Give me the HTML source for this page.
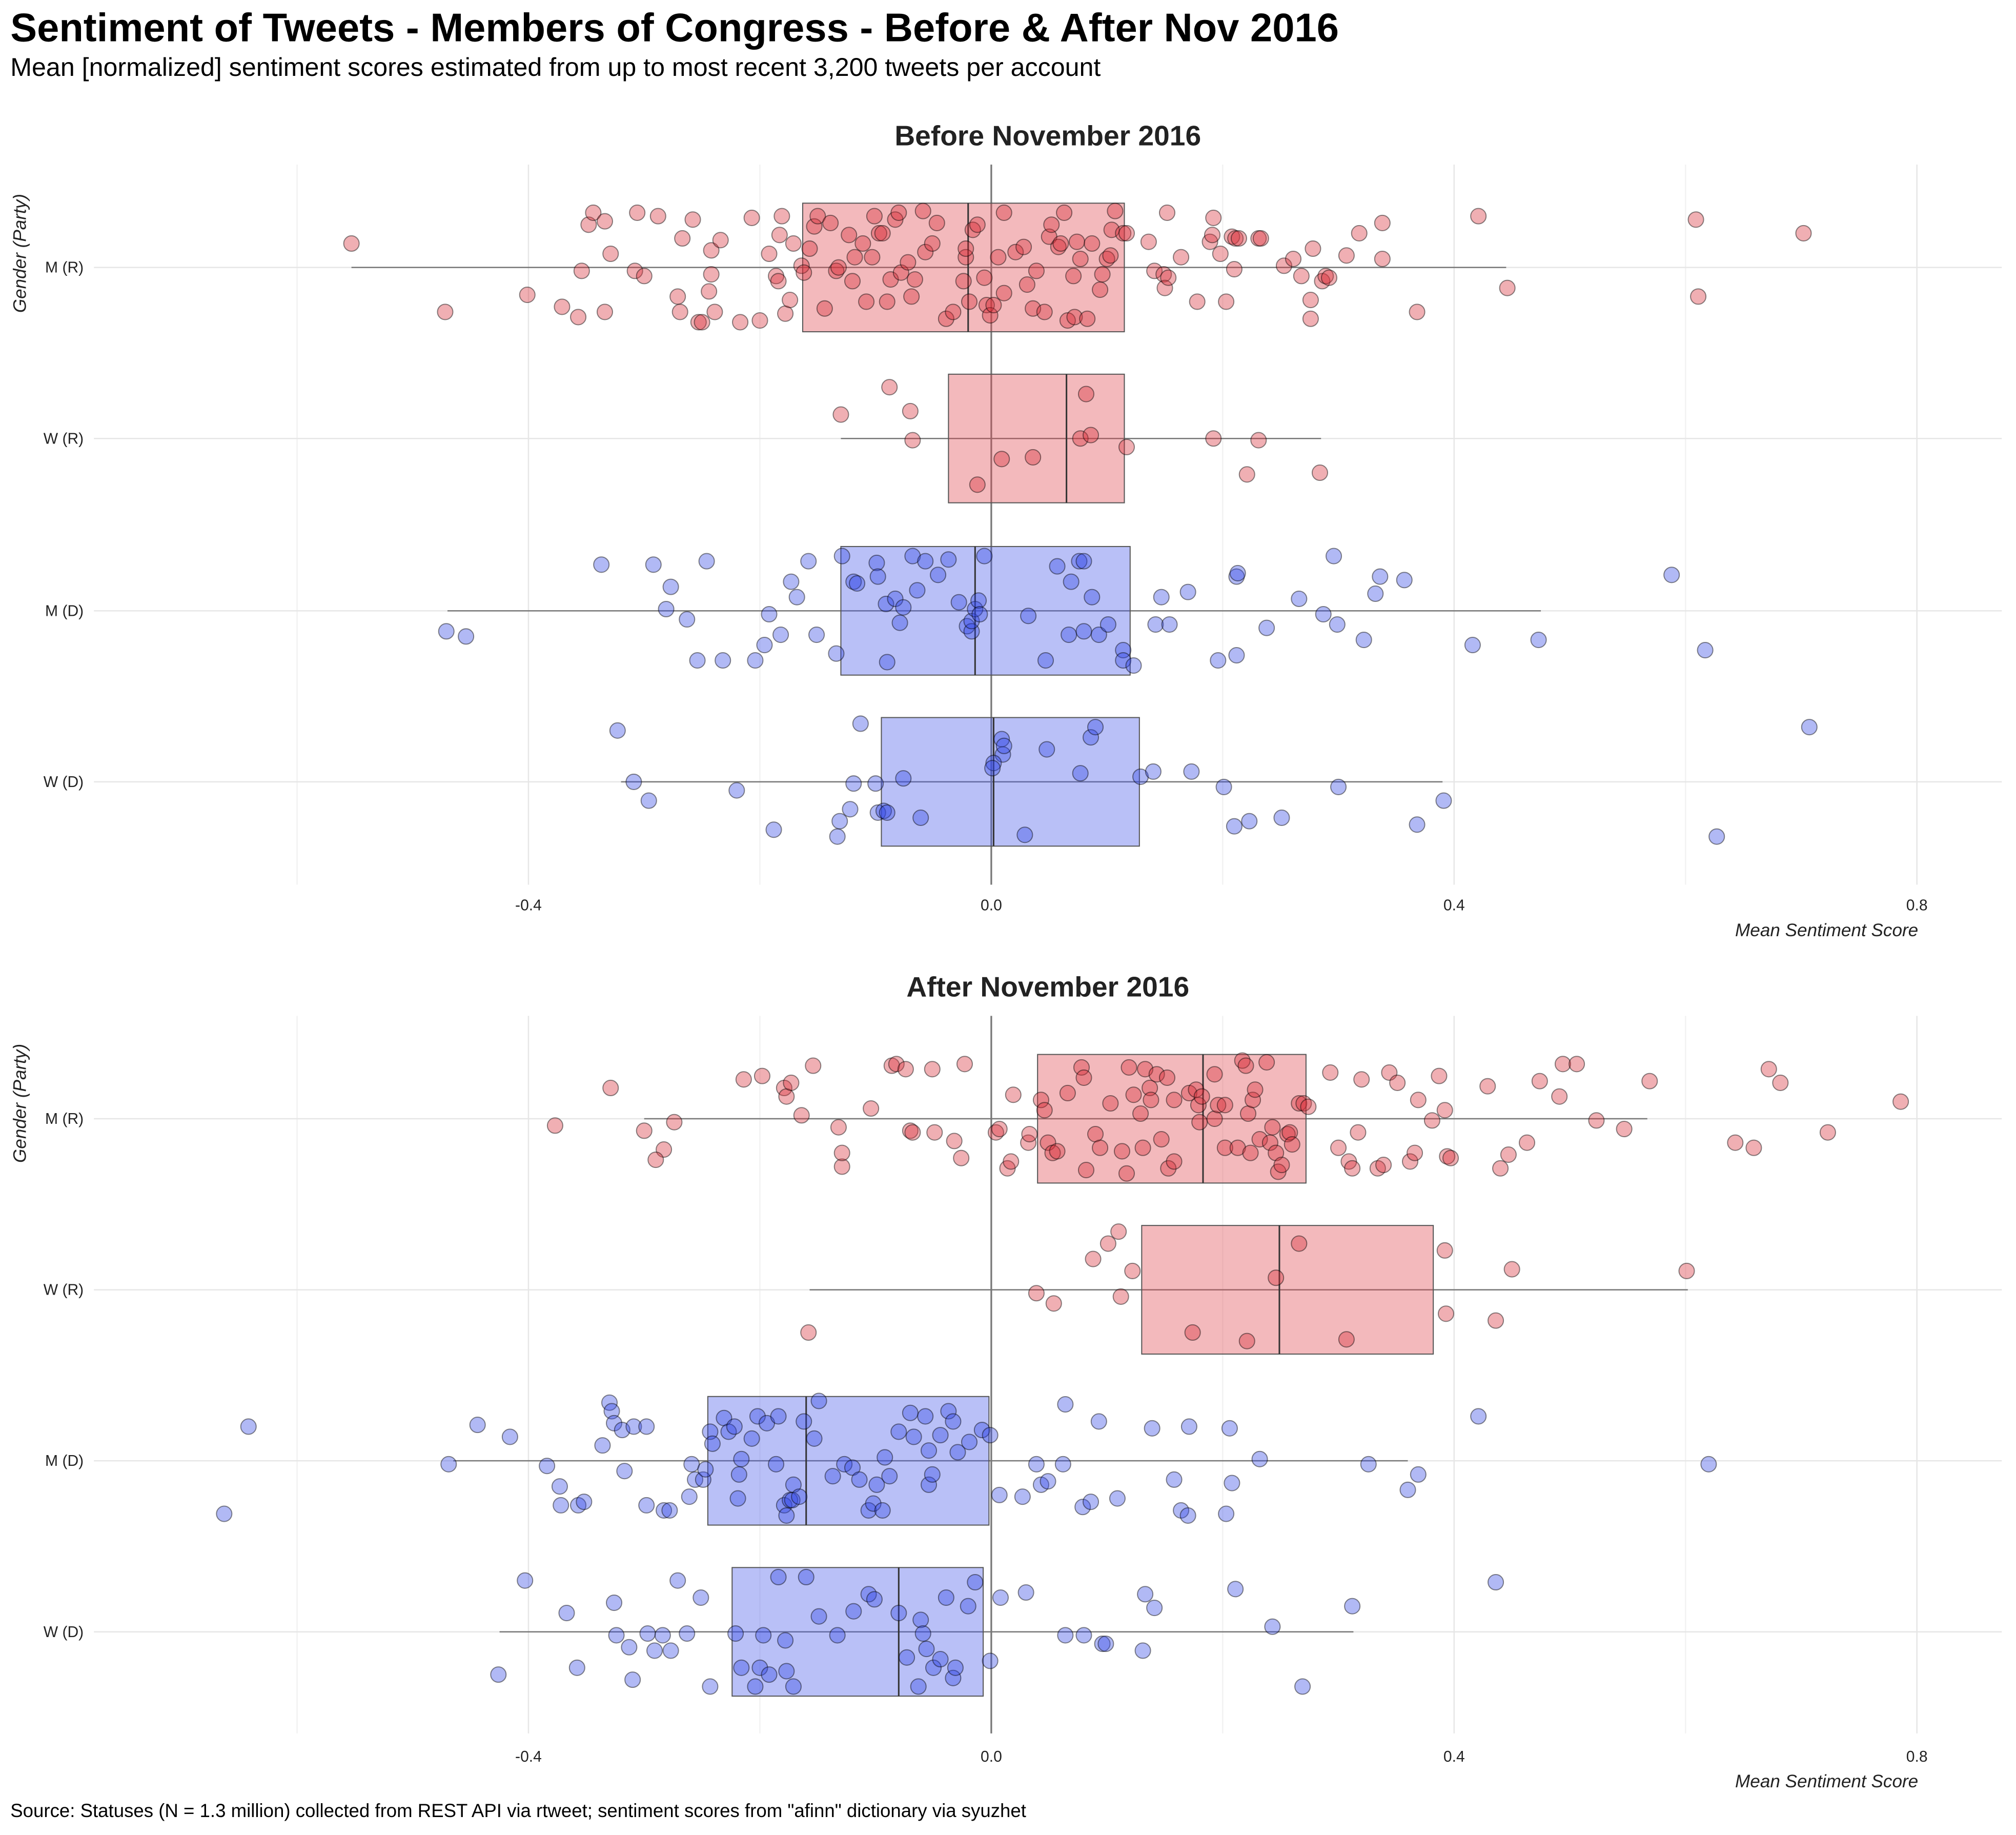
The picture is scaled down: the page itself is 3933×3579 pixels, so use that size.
<!DOCTYPE html>
<html><head><meta charset="utf-8"><style>
html,body{margin:0;padding:0;background:#fff;}
svg{display:block;}
text{font-family:"Liberation Sans",sans-serif;}
.nar{font-family:"Liberation Sans Narrow","Liberation Sans",sans-serif;}
</style></head><body>
<svg id="chart" width="3933" height="3579" viewBox="0 0 1568 1427" xmlns="http://www.w3.org/2000/svg">
<rect width="1568" height="1427" fill="#fff"/>
<text x="8" y="32" font-size="31" font-weight="bold">Sentiment of Tweets - Members of Congress - Before &amp; After Nov 2016</text>
<text x="8" y="59" font-size="20">Mean [normalized] sentiment scores estimated from up to most recent 3,200 tweets per account</text>
<text x="8" y="1413" font-size="14.6">Source: Statuses (N = 1.3 million) collected from REST API via rtweet; sentiment scores from "afinn" dictionary via syuzhet</text>
<g id="panels"></g>
</svg>
<script>
const categories = ["M (R)","W (R)","M (D)","W (D)"];
const categoryParty = ["R","R","D","D"];
const panelTitles = ["Before November 2016","After November 2016"];
const tickValues = [-0.4,0.0,0.4,0.8];
const tickLabels = ["-0.4","0.0","0.4","0.8"];
const minorTicks = [-0.6,-0.2,0.2,0.6];
// box stats [lowWhisker, q1, median, q3, highWhisker]
const boxesBefore = [[-0.553,-0.163,-0.02,0.115,0.445],[-0.13,-0.037,0.065,0.115,0.285],[-0.47,-0.13,-0.014,0.12,0.475],[-0.32,-0.095,0.002,0.128,0.39]];
const boxesAfter = [[-0.3,0.04,0.183,0.272,0.567],[-0.157,0.13,0.249,0.382,0.602],[-0.465,-0.245,-0.16,-0.002,0.36],[-0.425,-0.224,-0.08,-0.007,0.313]];
// points: [score, jitter (fraction of row)]
const before_MR = [[-0.553,-0.14],[-0.472,0.26],[-0.401,0.16],[-0.371,0.23],[-0.357,0.29],[-0.354,0.02],[-0.348,-0.25],[-0.344,-0.32],[-0.334,0.26],[-0.334,-0.27],[-0.329,-0.08],[-0.308,0.02],[-0.306,-0.32],[-0.300,0.05],[-0.288,-0.30],[-0.271,0.17],[-0.269,0.26],[-0.267,-0.17],[-0.258,-0.28],[-0.253,0.32],[-0.250,0.32],[-0.244,0.14],[-0.242,0.04],[-0.242,-0.10],[-0.239,0.26],[-0.234,-0.16],[-0.217,0.32],[-0.207,-0.29],[-0.200,0.31],[-0.192,-0.08],[-0.186,0.05],[-0.184,0.08],[-0.183,-0.19],[-0.181,-0.30],[-0.178,0.27],[-0.174,0.19],[-0.171,-0.14],[-0.164,-0.01],[-0.162,0.03],[-0.157,-0.11],[-0.153,-0.24],[-0.150,-0.30],[-0.144,0.24],[-0.139,-0.26],[-0.134,0.02],[-0.132,0.00],[-0.123,-0.19],[-0.120,0.08],[-0.118,-0.06],[-0.111,-0.14],[-0.108,0.20],[-0.103,-0.06],[-0.101,-0.30],[-0.097,-0.20],[-0.094,-0.20],[-0.090,0.20],[-0.087,0.07],[-0.083,-0.28],[-0.080,-0.32],[-0.078,0.03],[-0.072,-0.03],[-0.069,0.17],[-0.066,0.07],[-0.059,-0.33],[-0.057,-0.09],[-0.051,-0.14],[-0.047,-0.26],[-0.039,0.30],[-0.033,0.26],[-0.024,0.08],[-0.022,-0.06],[-0.022,-0.11],[-0.019,0.20],[-0.016,-0.22],[-0.012,-0.25],[-0.006,0.06],[-0.004,0.22],[-0.001,0.28],[0.002,0.22],[0.006,-0.06],[0.011,0.15],[0.011,-0.32],[0.021,-0.09],[0.028,-0.12],[0.031,0.10],[0.036,0.24],[0.039,0.02],[0.046,0.26],[0.050,-0.18],[0.052,-0.25],[0.058,-0.12],[0.060,-0.14],[0.063,-0.32],[0.066,0.31],[0.071,0.05],[0.072,0.29],[0.074,-0.15],[0.077,-0.05],[0.083,0.30],[0.087,-0.14],[0.094,0.13],[0.096,0.04],[0.100,-0.05],[0.103,-0.07],[0.104,-0.22],[0.107,-0.33],[0.114,-0.20],[0.117,-0.20],[0.136,-0.15],[0.141,0.02],[0.149,0.04],[0.150,0.12],[0.152,-0.32],[0.153,0.06],[0.164,-0.06],[0.178,0.20],[0.189,-0.15],[0.191,-0.19],[0.192,-0.29],[0.198,-0.08],[0.203,0.20],[0.208,-0.18],[0.210,0.01],[0.211,-0.17],[0.214,-0.17],[0.231,-0.17],[0.233,-0.17],[0.253,-0.01],[0.261,-0.05],[0.268,0.05],[0.276,0.19],[0.276,0.30],[0.278,-0.11],[0.286,0.08],[0.289,0.05],[0.292,0.06],[0.307,-0.07],[0.318,-0.20],[0.338,-0.05],[0.338,-0.26],[0.368,0.26],[0.421,-0.30],[0.446,0.12],[0.609,-0.28],[0.611,0.17],[0.702,-0.20]];
const before_WR = [[-0.130,-0.14],[-0.088,-0.30],[-0.070,-0.16],[-0.068,0.01],[-0.012,0.27],[0.009,0.12],[0.036,0.11],[0.077,0.00],[0.082,-0.26],[0.086,-0.02],[0.117,0.05],[0.192,0.00],[0.221,0.21],[0.231,0.01],[0.284,0.20]];
const before_MD = [[-0.471,0.12],[-0.454,0.15],[-0.337,-0.27],[-0.292,-0.27],[-0.281,-0.01],[-0.277,-0.14],[-0.263,0.05],[-0.254,0.29],[-0.246,-0.29],[-0.232,0.29],[-0.204,0.29],[-0.196,0.20],[-0.192,0.02],[-0.182,0.14],[-0.173,-0.17],[-0.168,-0.08],[-0.158,-0.29],[-0.151,0.14],[-0.134,0.25],[-0.129,-0.32],[-0.119,-0.17],[-0.116,-0.16],[-0.099,-0.28],[-0.098,-0.20],[-0.091,-0.04],[-0.090,0.30],[-0.083,-0.07],[-0.079,0.07],[-0.076,-0.02],[-0.068,-0.32],[-0.064,-0.12],[-0.057,-0.29],[-0.046,-0.21],[-0.037,-0.30],[-0.028,-0.05],[-0.021,0.09],[-0.017,0.12],[-0.017,0.06],[-0.014,-0.01],[-0.011,-0.06],[-0.010,0.02],[-0.006,-0.32],[0.032,0.03],[0.047,0.29],[0.057,-0.26],[0.067,0.14],[0.069,-0.17],[0.076,-0.29],[0.080,-0.29],[0.080,0.12],[0.087,-0.08],[0.093,0.14],[0.101,0.08],[0.114,0.23],[0.114,0.29],[0.123,0.32],[0.142,0.08],[0.147,-0.08],[0.154,0.08],[0.170,-0.11],[0.196,0.29],[0.212,-0.20],[0.213,-0.22],[0.212,0.26],[0.238,0.10],[0.266,-0.07],[0.287,0.02],[0.296,-0.32],[0.299,0.08],[0.322,0.17],[0.332,-0.10],[0.336,-0.20],[0.357,-0.18],[0.416,0.20],[0.473,0.17],[0.588,-0.21],[0.617,0.23]];
const before_WD = [[-0.323,-0.30],[-0.309,0.00],[-0.296,0.11],[-0.220,0.05],[-0.188,0.28],[-0.133,0.32],[-0.131,0.23],[-0.122,0.16],[-0.119,0.01],[-0.113,-0.34],[-0.100,0.01],[-0.098,0.18],[-0.093,0.17],[-0.090,0.18],[-0.076,-0.02],[-0.061,0.21],[0.009,-0.25],[0.010,-0.16],[0.011,-0.21],[0.002,-0.11],[0.001,-0.08],[0.029,0.31],[0.048,-0.19],[0.077,-0.05],[0.086,-0.26],[0.090,-0.32],[0.129,-0.03],[0.140,-0.06],[0.173,-0.06],[0.201,0.03],[0.210,0.26],[0.223,0.23],[0.251,0.21],[0.300,0.03],[0.368,0.25],[0.391,0.11],[0.627,0.32],[0.707,-0.32]];
const after_MR = [[-0.377,0.04],[-0.329,-0.18],[-0.300,0.07],[-0.283,0.18],[-0.290,0.24],[-0.274,0.02],[-0.214,-0.23],[-0.198,-0.25],[-0.179,-0.18],[-0.177,-0.13],[-0.173,-0.21],[-0.164,-0.02],[-0.154,-0.31],[-0.132,0.05],[-0.129,0.28],[-0.129,0.20],[-0.104,-0.06],[-0.086,-0.31],[-0.082,-0.32],[-0.074,-0.29],[-0.070,0.07],[-0.068,0.08],[-0.051,-0.29],[-0.049,0.08],[-0.032,0.13],[-0.026,0.23],[-0.023,-0.32],[0.004,0.08],[0.007,0.06],[0.014,0.29],[0.017,0.25],[0.019,-0.14],[0.032,0.14],[0.033,0.09],[0.043,-0.11],[0.046,-0.05],[0.049,0.14],[0.053,0.20],[0.057,0.19],[0.066,-0.15],[0.078,-0.30],[0.080,-0.24],[0.082,0.30],[0.090,0.09],[0.094,0.17],[0.103,-0.09],[0.113,0.19],[0.117,0.32],[0.119,-0.30],[0.123,-0.14],[0.129,-0.03],[0.131,0.17],[0.133,-0.29],[0.137,-0.18],[0.138,-0.11],[0.143,-0.26],[0.147,0.12],[0.152,-0.24],[0.153,0.29],[0.158,0.25],[0.158,-0.11],[0.171,-0.15],[0.177,-0.17],[0.179,-0.08],[0.180,0.02],[0.182,-0.13],[0.193,-0.26],[0.193,0.00],[0.196,-0.08],[0.202,-0.08],[0.202,0.17],[0.213,0.17],[0.217,-0.34],[0.220,-0.31],[0.222,-0.03],[0.224,0.20],[0.226,-0.11],[0.228,-0.17],[0.232,0.12],[0.238,-0.33],[0.241,0.14],[0.243,0.05],[0.246,0.20],[0.248,0.31],[0.251,0.27],[0.256,0.09],[0.258,0.08],[0.260,0.15],[0.266,-0.09],[0.270,-0.09],[0.274,-0.07],[0.293,-0.27],[0.300,0.17],[0.309,0.25],[0.312,0.29],[0.317,0.08],[0.320,-0.23],[0.334,0.29],[0.339,0.27],[0.344,-0.27],[0.351,-0.21],[0.362,0.25],[0.366,0.20],[0.369,-0.11],[0.381,0.01],[0.387,-0.25],[0.392,-0.05],[0.394,0.22],[0.397,0.23],[0.429,-0.19],[0.440,0.29],[0.447,0.21],[0.463,0.14],[0.474,-0.22],[0.491,-0.13],[0.494,-0.32],[0.506,-0.32],[0.523,0.01],[0.547,0.06],[0.569,-0.22],[0.643,0.14],[0.659,0.17],[0.672,-0.29],[0.682,-0.21],[0.723,0.08],[0.786,-0.10]];
const after_WR = [[-0.158,0.25],[0.039,0.02],[0.054,0.08],[0.088,-0.18],[0.101,-0.27],[0.110,-0.34],[0.122,-0.11],[0.112,0.04],[0.174,0.25],[0.221,0.30],[0.246,-0.07],[0.266,-0.27],[0.307,0.29],[0.392,-0.23],[0.393,0.14],[0.436,0.18],[0.450,-0.12],[0.601,-0.11]];
const after_MD = [[-0.642,-0.20],[-0.663,0.31],[-0.469,0.02],[-0.444,-0.21],[-0.416,-0.14],[-0.384,0.03],[-0.373,0.15],[-0.372,0.26],[-0.357,0.26],[-0.352,0.24],[-0.336,-0.09],[-0.330,-0.34],[-0.328,-0.29],[-0.326,-0.22],[-0.319,-0.18],[-0.317,0.06],[-0.309,-0.20],[-0.298,-0.20],[-0.298,0.26],[-0.283,0.29],[-0.278,0.29],[-0.261,0.21],[-0.259,0.02],[-0.256,0.11],[-0.249,0.11],[-0.247,0.05],[-0.243,-0.17],[-0.241,-0.10],[-0.231,-0.25],[-0.227,-0.17],[-0.222,-0.20],[-0.219,0.22],[-0.218,0.08],[-0.216,-0.01],[-0.207,-0.13],[-0.202,-0.26],[-0.194,-0.22],[-0.186,0.02],[-0.184,-0.26],[-0.179,0.26],[-0.177,0.32],[-0.174,0.23],[-0.172,0.23],[-0.171,0.14],[-0.166,0.21],[-0.162,-0.23],[-0.153,-0.13],[-0.149,-0.35],[-0.137,0.09],[-0.127,0.02],[-0.120,0.04],[-0.114,0.11],[-0.106,0.29],[-0.102,0.25],[-0.099,0.14],[-0.094,0.29],[-0.092,-0.02],[-0.088,0.09],[-0.080,-0.17],[-0.070,-0.28],[-0.067,-0.14],[-0.057,-0.26],[-0.054,-0.06],[-0.054,0.14],[-0.051,0.08],[-0.044,-0.15],[-0.037,-0.29],[-0.033,-0.23],[-0.029,-0.05],[-0.019,-0.11],[-0.008,-0.18],[-0.001,-0.15],[0.007,0.20],[0.027,0.21],[0.039,0.02],[0.043,0.14],[0.049,0.12],[0.064,-0.33],[0.062,0.02],[0.079,0.27],[0.086,0.24],[0.093,-0.23],[0.109,0.22],[0.139,-0.19],[0.158,0.11],[0.164,0.29],[0.170,0.32],[0.171,-0.20],[0.203,0.31],[0.206,-0.19],[0.208,0.13],[0.232,-0.01],[0.326,0.02],[0.360,0.17],[0.369,0.08],[0.421,-0.26],[0.620,0.02]];
const after_WD = [[-0.426,0.25],[-0.403,-0.30],[-0.367,-0.11],[-0.358,0.21],[-0.324,0.02],[-0.326,-0.17],[-0.313,0.09],[-0.310,0.28],[-0.297,0.01],[-0.291,0.11],[-0.284,0.02],[-0.277,0.11],[-0.271,-0.30],[-0.263,0.01],[-0.251,-0.20],[-0.243,0.32],[-0.221,0.01],[-0.216,0.21],[-0.204,0.32],[-0.200,0.21],[-0.197,0.02],[-0.192,0.25],[-0.184,-0.32],[-0.178,0.05],[-0.177,0.23],[-0.171,0.32],[-0.160,-0.32],[-0.149,-0.09],[-0.133,0.02],[-0.119,-0.12],[-0.106,-0.22],[-0.101,-0.19],[-0.080,-0.11],[-0.073,0.15],[-0.063,0.32],[-0.061,-0.07],[-0.059,0.01],[-0.056,0.10],[-0.050,0.21],[-0.044,0.16],[-0.039,-0.20],[-0.033,0.27],[-0.031,0.21],[-0.020,-0.15],[-0.014,-0.29],[-0.001,0.17],[0.008,-0.20],[0.030,-0.23],[0.064,0.02],[0.080,0.02],[0.096,0.07],[0.099,0.07],[0.131,0.11],[0.133,-0.22],[0.141,-0.14],[0.211,-0.25],[0.243,-0.03],[0.269,0.32],[0.312,-0.15],[0.436,-0.29]];

const NS="http://www.w3.org/2000/svg";
const X0=771, XS=900, XL=73, XR=1557;
function xScale(v){return X0+v*XS;}
function mk(tag,attrs,parent){const e=document.createElementNS(NS,tag);for(const k in attrs)e.setAttribute(k,attrs[k]);parent.appendChild(e);return e;}
const panelsG=document.getElementById('panels');
const panels=[
 {title:panelTitles[0],top:128,bottom:688,rows:[208,341,475,608],boxes:boxesBefore,pts:[before_MR,before_WR,before_MD,before_WD],titleY:113,tickY:708,axY:728,yt:197},
 {title:panelTitles[1],top:790,bottom:1348,rows:[870,1003,1136,1269],boxes:boxesAfter,pts:[after_MR,after_WR,after_MD,after_WD],titleY:775,tickY:1370,axY:1390,yt:858}
];
const rowStep=133;
panels.forEach((p,pi)=>{
 const g=mk('g',{},panelsG);
 
 
 const t=mk('text',{x:(XL+XR)/2,y:p.titleY,'font-size':22,'font-weight':'bold','text-anchor':'middle',class:'nar',fill:'#222'},g);
 t.textContent=p.title;
 
 
 minorTicks.forEach(v=>{const l=mk('line',{x1:xScale(v),x2:xScale(v),y1:p.top,y2:p.bottom,stroke:'#f2f2f2','stroke-width':1},g);
  
  });
 tickValues.forEach((v,i)=>{const l=mk('line',{x1:xScale(v),x2:xScale(v),y1:p.top,y2:p.bottom,stroke:'#e6e6e6','stroke-width':1},g);
  
  
  const tx=mk('text',{x:xScale(v),y:p.tickY,'font-size':12,'text-anchor':'middle',class:'nar',fill:'#222'},g);
  tx.textContent=tickLabels[i];
  
  });
 p.rows.forEach((ry,ci)=>{const l=mk('line',{x1:XL,x2:XR,y1:ry,y2:ry,stroke:'#e6e6e6','stroke-width':1},g);
  
  
  const tx=mk('text',{x:65,y:ry+4,'font-size':12,'text-anchor':'end',class:'nar',fill:'#222'},g);
  tx.textContent=categories[ci];
  
  });
 const vl=mk('line',{x1:xScale(0),x2:xScale(0),y1:p.top,y2:p.bottom,stroke:'#777','stroke-width':1.3},g);
 
 
 p.rows.forEach((ry,ci)=>{
  const b=p.boxes[ci]; const red=categoryParty[ci]==='R';
  const wl=mk('line',{x1:xScale(b[0]),x2:xScale(b[4]),y1:ry,y2:ry,stroke:'#777','stroke-width':1},g);
  
  
  const r=mk('rect',{x:xScale(b[1]),y:ry-50,width:xScale(b[3])-xScale(b[1]),height:100,fill:red?'rgba(224,70,80,0.38)':'rgba(70,90,235,0.38)',stroke:'#555','stroke-width':0.8},g);
  
  
  const md=mk('line',{x1:xScale(b[2]),x2:xScale(b[2]),y1:ry-50,y2:ry+50,stroke:'#333','stroke-width':1.2},g);
  
  
 });
 p.rows.forEach((ry,ci)=>{
  const red=categoryParty[ci]==='R';
  p.pts[ci].forEach(pt=>{
   const c=mk('circle',{cx:xScale(pt[0]),cy:ry+pt[1]*rowStep,r:6,fill:red?'rgba(215,45,55,0.38)':'rgba(50,70,230,0.38)',stroke:'rgba(0,0,0,0.45)','stroke-width':0.8},g);
   
   
  });
 });
 const at=mk('text',{x:1492,y:p.axY,'font-size':14,'font-style':'italic','text-anchor':'end',class:'nar',fill:'#222'},g);
 at.textContent='Mean Sentiment Score';
 
 
 const yt=mk('text',{x:20,y:p.yt,'font-size':14,'font-style':'italic','text-anchor':'middle',class:'nar',fill:'#222',transform:'rotate(-90 20 '+p.yt+')'},g);
 yt.textContent='Gender (Party)';
 
 
});
</script>
</body></html>
